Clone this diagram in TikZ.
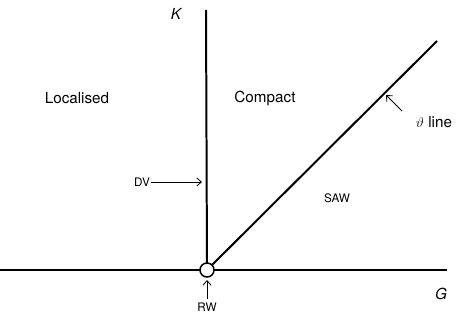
\documentclass[tikz,border=0pt]{standalone}
\usepackage{fontspec}
\setsansfont{TeX Gyre Heros}
\usetikzlibrary{positioning,arrows.meta}

\begin{document}
\begin{tikzpicture}[x=0.03cm, y=-0.03cm, font=\sffamily\fontsize{13}{15}\selectfont]
\useasboundingbox (0,0) rectangle (459,320);
\coordinate (o) at (207,270);
\coordinate (kt) at (206,10);
\coordinate (gl) at (0,270);
\coordinate (gr) at (447,270);
\coordinate (th) at (437,41);
\draw[line width=1.7pt] (gl) -- (gr);
\draw[line width=1.7pt] (o) -- (kt);
\draw[line width=1.7pt] (o) -- (th);
\filldraw[black, fill=white, line width=1.3pt] (o) circle (7) node (rw0) {};
\node (K) at (176,14) {\itshape K};
\node (G) at (441,294) {\itshape G};
\node (loc) at (77,98) {Localised};
\node (com) at (265,98) {Compact};
\node (saw) at (337,198) {\fontsize{10}{12}\selectfont SAW};
\node (thl) at (434,122) {$\vartheta$ line};
\node[inner sep=1pt] (dv) at (142,182) {\fontsize{10}{12}\selectfont DV};
\node (rw) at (207,307) {\fontsize{10}{12}\selectfont RW};
\coordinate (dvtip) at (202,182);
\coordinate (rwtip) at (207,280);
\coordinate (thtip) at (386,95);
\draw[-{Straight Barb[length=4pt,width=7pt]}, line width=0.7pt] (dv.east) -- (dvtip);
\draw[-{Straight Barb[length=4pt,width=7pt]}, line width=0.7pt] (rw.north) -- (rwtip);
\draw[-{Straight Barb[length=4pt,width=7pt]}, line width=0.7pt] (402,111) -- (thtip);
\end{tikzpicture}
\end{document}
